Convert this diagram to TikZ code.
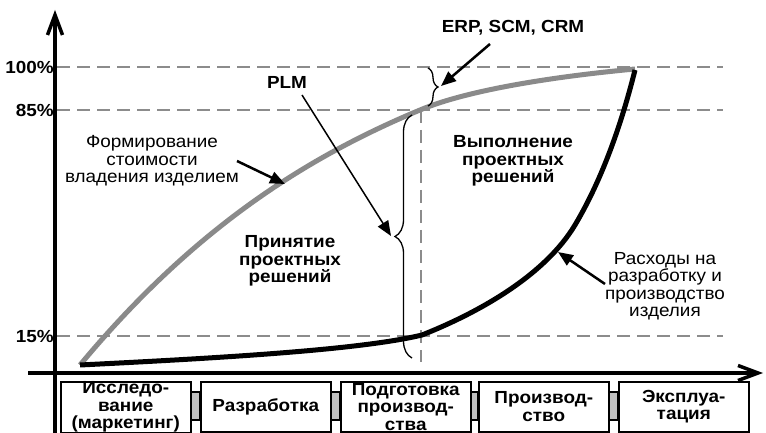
\documentclass[tikz,border=0pt]{standalone}
\usepackage{fontspec}
\setmainfont[FakeStretch=1.08]{Liberation Sans}
\usetikzlibrary{arrows.meta,decorations.pathreplacing,calc}

\definecolor{curvegray}{RGB}{138,138,138}
\definecolor{gridgray}{RGB}{140,140,140}
\definecolor{linkgray}{RGB}{192,192,192}

\begin{document}
\begin{tikzpicture}[x=1bp,y=-1bp,
  txt/.style={font=\fontsize{17.5bp}{17.5bp}\selectfont, align=center, inner sep=0pt},
  btxt/.style={txt, font=\fontsize{17.5bp}{17.5bp}\selectfont\bfseries},
  axisline/.style={line width=3.5bp, -{Straight Barb[length=20bp,width=15bp]}},
  gridline/.style={gridgray, line width=1.4bp, dash pattern=on 13bp off 7bp},
  ownership/.style={curvegray, line width=5bp},
  expense/.style={black, line width=5bp},
  pointer/.style={line width=2.5bp, -{Triangle[length=15bp,width=12bp]}},
  thinpointer/.style={line width=1.5bp, -{Triangle[length=15bp,width=12bp]}},
  bracket/.style={line width=1.3bp, decorate},
  stage/.style={draw, line width=1.5bp, fill=white, minimum width=130bp,
    minimum height=50bp, anchor=north west, inner sep=0pt,
    font=\fontsize{17.5bp}{17.5bp}\selectfont\bfseries, align=center},
  link/.style={draw, line width=1.3bp, fill=linkgray}
]
\useasboundingbox (0,0) rectangle (766,433);
\clip (0,0) rectangle (766,433);

% reference levels
\draw[gridline] (57,67) -- (723,67);
\draw[gridline] (57,110) -- (723,110);
\draw[gridline] (57,336) -- (723,336);
\draw[gridline] (421,110) -- (421,362);

\node[btxt, anchor=east] (p100) at (54,67) {100\%};
\node[btxt, anchor=east] (p85) at (54,110) {85\%};
\node[btxt, anchor=east] (p15) at (54,336) {15\%};

% axes
\coordinate (yfoot) at (55,440);
\coordinate (ytop) at (55,10);
\coordinate (xfoot) at (28,373);
\coordinate (xtip) at (763,373);
\draw[axisline] (yfoot) -- (ytop);
\draw[axisline] (xfoot) -- (xtip);

% cost curves
\coordinate (start) at (80,365);
\coordinate (top) at (635,69);
\draw[ownership] (start) .. controls (190,233) and (300,160) .. (420,110)
  .. controls (470,89) and (560,76) .. (top);
\draw[expense] (start) .. controls (220,358) and (360,350) .. (422,335)
  .. controls (480,312) and (545,275) .. (575,225)
  .. controls (600,183) and (620,130) .. (635,70);

% braces
\draw[bracket, decoration={brace, amplitude=10bp}] (428,68) -- (428,106);
\draw[bracket, decoration={brace, amplitude=17bp}] (412,358) -- (412,115);

% labels
\node[btxt] (erp) at (513,28) {ERP, SCM, CRM};
\node[btxt] (plm) at (287,82) {PLM};
\node[txt] (formlbl) at (152,161) {Формирование\\стоимости\\владения изделием};
\node[btxt] (vyplbl) at (513,161) {Выполнение\\проектных\\решений};
\node[btxt] (prinlbl) at (290,261) {Принятие\\проектных\\решений};
\node[txt] (rashlbl) at (665,286) {Расходы на\\разработку и\\производство\\изделия};

% pointers
\coordinate (erptail) at (490,44);
\coordinate (erptip) at (441,86);
\coordinate (plmtail) at (302,95);
\coordinate (plmtip) at (391,236);
\coordinate (formtail) at (237,161);
\coordinate (formtip) at (285,184);
\coordinate (rashtail) at (605,284);
\coordinate (rashtip) at (558,252);
\draw[pointer] (erptail) -- (erptip);
\draw[thinpointer] (plmtail) -- (plmtip);
\draw[pointer] (formtail) -- (formtip);
\draw[pointer] (rashtail) -- (rashtip);

% life-cycle stages
\node[stage] (b1) at (60,381) {Исследо-\\вание\\(маркетинг)};
\node[stage] (b2) at (200,381) {Разработка};
\node[stage] (b3) at (340,381) {Подготовка\\производ-\\ства};
\node[stage] (b4) at (478,381) {Производ-\\ство};
\node[stage] (b5) at (618,381) {Эксплуа-\\тация};

\draw[link] ($(b1.north east)+(0,11)$) rectangle ($(b2.north west)+(0,39)$);
\draw[link] ($(b2.north east)+(0,11)$) rectangle ($(b3.north west)+(0,39)$);
\draw[link] ($(b3.north east)+(0,11)$) rectangle ($(b4.north west)+(0,39)$);
\draw[link] ($(b4.north east)+(0,11)$) rectangle ($(b5.north west)+(0,39)$);
\end{tikzpicture}
\end{document}
